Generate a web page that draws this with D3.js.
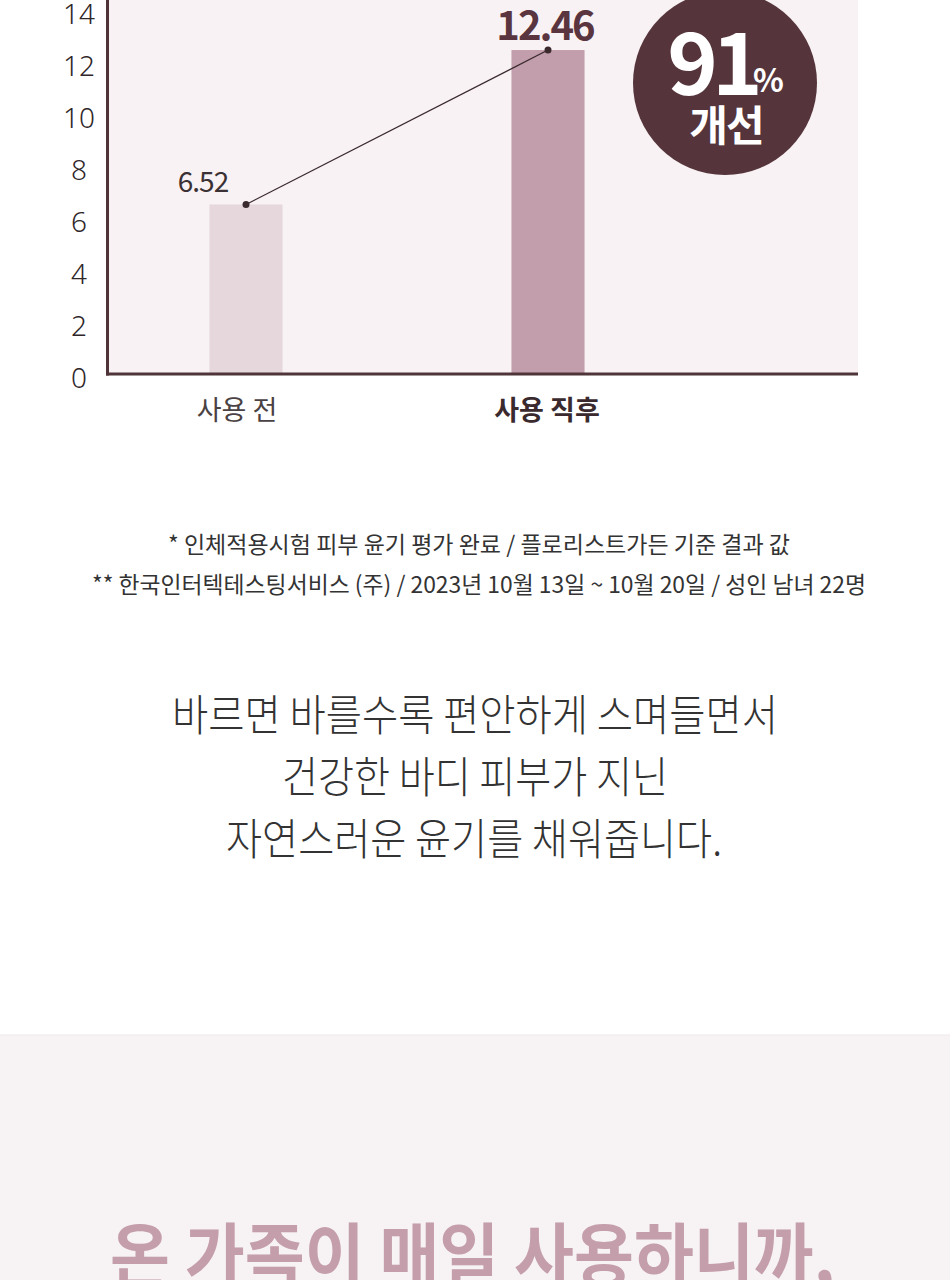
<!DOCTYPE html>
<meta charset="utf-8">
<style>
  body { margin:0; background:#ffffff; }
  svg text { font-family:'Noto Sans CJK KR','Noto Sans',sans-serif; }
</style>
<script src="https://cdnjs.cloudflare.com/ajax/libs/d3/7.8.5/d3.min.js"></script>
<body>
<div id="chart"></div>
<script>

// data
var categories = ["사용 전", "사용 직후"]
var values = [6.52, 12.46]
var valueLabels = ["6.52", "12.46"]
var yTicks = [0, 2, 4, 6, 8, 10, 12, 14]
var badge = ["91", "%", "개선"]
var notes = ["* 인체적용시험 피부 윤기 평가 완료 / 플로리스트가든 기준 결과 값",
             "** 한국인터텍테스팅서비스 (주) / 2023년 10월 13일 ~ 10월 20일 / 성인 남녀 22명"]
var copy = ["바르면 바를수록 편안하게 스며들면서",
            "건강한 바디 피부가 지닌",
            "자연스러운 윤기를 채워줍니다."]
var headline = "온 가족이 매일 사용하니까,"

var W = 950, H = 1280
var left = 106, right = 858, bottom = 374

var svg = d3.select("#chart").append("svg")
    .attr("width", W)
    .attr("height", H)

// scales
var y = d3.scaleLinear().domain([0, 14]).range([bottom, 10])
var x = d3.scaleBand().domain(categories).range([95, 699])
    .paddingInner(0.758).paddingOuter(0.379)

// plot background
svg.append("rect")
    .attr("x", left).attr("y", 0)
    .attr("width", right - left).attr("height", bottom)
    .attr("fill", "#f8f2f4")

// bars
var barColors = ["#e5d7db", "#c29dab"]
svg.selectAll(".bar")
  .data(values)
  .enter()
  .append("rect")
    .attr("class", "bar")
    .attr("x", function(d,i){ return x(categories[i]) })
    .attr("y", function(d){ return y(d) })
    .attr("width", x.bandwidth())
    .attr("height", function(d){ return bottom - y(d) })
    .attr("fill", function(d,i){ return barColors[i] })

// axes lines
svg.append("line")
    .attr("x1", left + 1.5).attr("x2", left + 1.5)
    .attr("y1", 0).attr("y2", bottom + 1.5)
    .attr("stroke", "#4f3439").attr("stroke-width", 3)
svg.append("line")
    .attr("x1", left).attr("x2", right)
    .attr("y1", bottom).attr("y2", bottom)
    .attr("stroke", "#4f3439").attr("stroke-width", 3)

// y ticks
var yAxis = svg.append("g")
    .attr("transform", "translate(" + left + ",0)")
    .call(d3.axisLeft(y).tickValues(yTicks).tickSize(0))
yAxis.select(".domain").remove()
yAxis.selectAll("text")
    .attr("x", -27)
    .attr("dy", "0.36em")
    .attr("transform", "translate(0,3)")
    .attr("text-anchor", "middle")
    .style("font-size", "28px")
    .style("font-weight", 300)
    .style("font-family", "'Noto Sans','Noto Sans CJK KR',sans-serif")
    .attr("fill", "#2f2629")

// x labels
var xAxis = svg.append("g")
    .attr("transform", "translate(0," + bottom + ")")
    .call(d3.axisBottom(x).tickSize(0))
xAxis.select(".domain").remove()
xAxis.selectAll("text")
    .attr("x", function(d,i){ return i == 0 ? -9 : -1 })
    .attr("y", 36)
    .attr("dy", "0.36em")
    .style("font-size", "27px")
    .style("font-weight", function(d,i){ return i == 1 ? 700 : 400 })
    .attr("fill", function(d,i){ return i == 1 ? "#3a2a2e" : "#4a4143" })

// connecting line + dots
var pts = values.map(function(d,i){ return [x(categories[i]) + x.bandwidth()/2, y(d)] })
svg.append("path")
    .attr("d", d3.line()(pts))
    .attr("stroke", "#3a2a2e")
    .attr("stroke-width", 1.2)
    .attr("fill", "none")
svg.selectAll(".dot")
  .data(pts)
  .enter()
  .append("circle")
    .attr("cx", function(d){ return d[0] })
    .attr("cy", function(d){ return d[1] })
    .attr("r", 3.5)
    .attr("fill", "#3a2a2e")

// value labels
svg.append("text")
    .attr("x", pts[0][0] - 43)
    .attr("y", y(values[0]) - 12)
    .attr("text-anchor", "middle")
    .style("font-size", "28px")
    .style("font-weight", 400)
    .style("letter-spacing", "-1px")
    .attr("fill", "#3b3134")
    .text(valueLabels[0])
svg.append("text")
    .attr("x", pts[1][0] - 3)
    .attr("y", y(values[1]) - 10)
    .attr("text-anchor", "middle")
    .style("font-size", "40px")
    .style("font-weight", 700)
    .style("letter-spacing", "-2px")
    .attr("fill", "#5a3540")
    .text(valueLabels[1])

// badge
var bx = 725, by = 83
svg.append("circle")
    .attr("cx", bx).attr("cy", by).attr("r", 92)
    .attr("fill", "#55353b")
svg.append("text")
    .attr("x", bx - 13).attr("y", by + 12)
    .attr("text-anchor", "middle")
    .style("font-size", "86px")
    .style("font-weight", 700)
    .style("letter-spacing", "-6px")
    .attr("fill", "#ffffff")
    .text(badge[0])
svg.append("text")
    .attr("x", bx + 28).attr("y", by + 9)
    .style("font-size", "32px")
    .style("font-weight", 700)
    .attr("fill", "#ffffff")
    .text(badge[1])
svg.append("text")
    .attr("x", bx + 1).attr("y", by + 58)
    .attr("text-anchor", "middle")
    .style("font-size", "42px")
    .style("font-weight", 700)
    .style("letter-spacing", "-2px")
    .attr("fill", "#ffffff")
    .text(badge[2])

// footnotes
var noteLen = [622, 774]
svg.selectAll(".note")
  .data(notes)
  .enter()
  .append("text")
    .attr("class", "note")
    .attr("x", function(d,i){ return i == 0 ? 168 : 92 })
    .attr("y", function(d,i){ return 553 + i*40 })
    .attr("textLength", function(d,i){ return noteLen[i] })
    .attr("lengthAdjust", "spacingAndGlyphs")
    .style("font-size", "23px")
    .style("font-weight", 400)
    .attr("fill", "#333333")
    .text(function(d){ return d })

// body copy
var copyX = [172, 282, 226], copyLen = [606, 386, 496]
svg.selectAll(".copy")
  .data(copy)
  .enter()
  .append("text")
    .attr("class", "copy")
    .attr("x", function(d,i){ return copyX[i] })
    .attr("y", function(d,i){ return 731 + i*62 })
    .attr("textLength", function(d,i){ return copyLen[i] })
    .attr("lengthAdjust", "spacingAndGlyphs")
    .style("font-size", "43px")
    .style("font-weight", 300)
    .attr("fill", "#333333")
    .text(function(d){ return d })

// bottom band
svg.append("rect")
    .attr("x", 0).attr("y", 1035)
    .attr("width", W).attr("height", H - 1035)
    .attr("fill", "#f7f2f4")
svg.append("line")
    .attr("x1", 0).attr("x2", W)
    .attr("y1", 1035).attr("y2", 1035)
    .attr("stroke", "#efe9eb").attr("stroke-width", 1)
svg.append("text")
    .attr("x", 110).attr("y", 1282)
    .attr("textLength", 725)
    .attr("lengthAdjust", "spacingAndGlyphs")
    .style("font-size", "70px")
    .style("font-weight", 700)
    .attr("fill", "#c49eab")
    .text(headline)

</script>
</body>
